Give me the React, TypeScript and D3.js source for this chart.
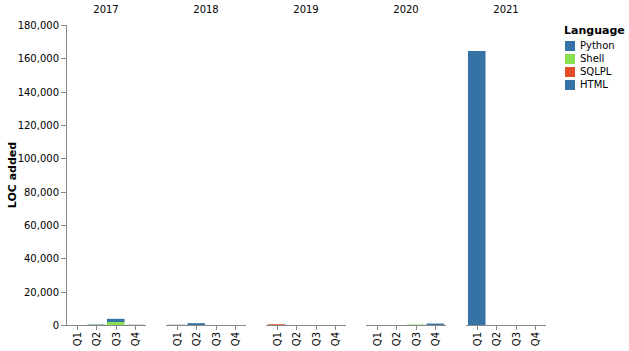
import { useMemo } from "react";
import * as d3 from "d3";

const width = 629;
const height = 351;
const margin = { top: 25, left: 58 };
const facetW = 80;
const facetGap = 20;
const plotH = 300;

const years = ["2017", "2018", "2019", "2020", "2021"];
const quarters = ["Q1", "Q2", "Q3", "Q4"];
const languages = ["Python", "Shell", "SQLPL", "HTML"];
const colors = ["#3572a5", "#89e051", "#e34c26", "#3572a5"];

// LOC added per year/quarter, one array per language (Q1..Q4 per year)
const python = [
  [0, 250, 1900, 150],
  [150, 1100, 0, 0],
  [0, 0, 0, 0],
  [0, 0, 0, 850],
  [164400, 0, 0, 0],
];
const shell = [
  [0, 200, 1800, 0],
  [0, 0, 0, 0],
  [0, 0, 0, 0],
  [0, 0, 300, 0],
  [0, 0, 0, 0],
];
const sqlpl = [
  [0, 0, 0, 0],
  [0, 0, 0, 0],
  [450, 0, 0, 0],
  [0, 0, 0, 0],
  [0, 0, 0, 0],
];
const html = [
  [0, 0, 0, 0],
  [0, 0, 0, 0],
  [0, 0, 0, 0],
  [0, 0, 0, 0],
  [0, 0, 0, 0],
];
const series = [python, shell, sqlpl, html];

const yTicks = [0, 20000, 40000, 60000, 80000, 100000, 120000, 140000, 160000, 180000];

const font = "DejaVu Sans, sans-serif";

const App = () => {
  const { yScale, xScale, stacks } = useMemo(() => {
    const yScale = d3.scaleLinear().domain([0, 180000]).range([plotH, 0]);
    const xScale = d3.scaleBand().domain(quarters).range([0, facetW]).padding(0.1);
    const stacks = years.map((_, yi) => {
      const rows = quarters.map((q, qi) => {
        const row: Record<string, number | string> = { q };
        languages.forEach((l, li) => (row[l] = series[li][yi][qi]));
        return row;
      });
      // first legend entry ends up on top
      return d3
        .stack<Record<string, number | string>>()
        .keys(languages)
        .order(d3.stackOrderReverse)(rows as any);
    });
    return { yScale, xScale, stacks };
  }, []);

  const fmt = d3.format(",");

  return (
    <svg width={width} height={height} style={{ position: "absolute", left: 0, top: 0, fontFamily: font }}>
      <g transform={`translate(${margin.left},${margin.top})`}>
        {/* y axis */}
        <line x1={8.5} x2={8.5} y1={0} y2={plotH} stroke="#888" />
        {yTicks.map((t) => (
          <g key={t} transform={`translate(0,${Math.round(yScale(t)) + 0.5})`}>
            <line x1={3} x2={8} stroke="#888" />
            <text x={1} dy="0.32em" textAnchor="end" fontSize={10} fill="#000">
              {fmt(t)}
            </text>
          </g>
        ))}
        <text
          transform={`translate(${-42},${plotH / 2}) rotate(-90)`}
          textAnchor="middle"
          fontSize={11}
          fontWeight="bold"
        >
          LOC added
        </text>
        {years.map((yr, yi) => {
          const fx = 8 + yi * (facetW + facetGap);
          return (
            <g key={yr} transform={`translate(${fx},0)`}>
              <text x={facetW / 2} y={-12} textAnchor="middle" fontSize={10}>
                {yr}
              </text>
              {stacks[yi].map((layer) =>
                layer.map((d, qi) =>
                  d[1] - d[0] > 0 ? (
                    <rect
                      key={`${layer.key}-${qi}`}
                      x={xScale(quarters[qi])}
                      width={xScale.bandwidth()}
                      y={yScale(d[1])}
                      height={yScale(d[0]) - yScale(d[1])}
                      fill={colors[languages.indexOf(layer.key)]}
                    />
                  ) : null
                )
              )}
              <line x1={0} x2={facetW} y1={plotH + 0.5} y2={plotH + 0.5} stroke="#888" />
              {quarters.map((q) => {
                const cx = (xScale(q) ?? 0) + xScale.bandwidth() / 2;
                return (
                  <g key={q} transform={`translate(${Math.round(cx) + 0.5},${plotH})`}>
                    <line y1={0} y2={5} stroke="#888" />
                    <text
                      transform="translate(0,7) rotate(-90)"
                      textAnchor="end"
                      dy="0.32em"
                      fontSize={10}
                    >
                      {q}
                    </text>
                  </g>
                );
              })}
            </g>
          );
        })}
      </g>
      {/* legend */}
      <g transform="translate(564,30)">
        <text x={0} y={4} fontSize={11} fontWeight="bold">
          Language
        </text>
        {languages.map((l, i) => (
          <g key={l} transform={`translate(0,${16 + i * 13})`}>
            <rect x={1} y={-5} width={10} height={10} fill={colors[i]} />
            <text x={16} dy="0.32em" fontSize={10}>
              {l}
            </text>
          </g>
        ))}
      </g>
    </svg>
  );
};

export default App;
